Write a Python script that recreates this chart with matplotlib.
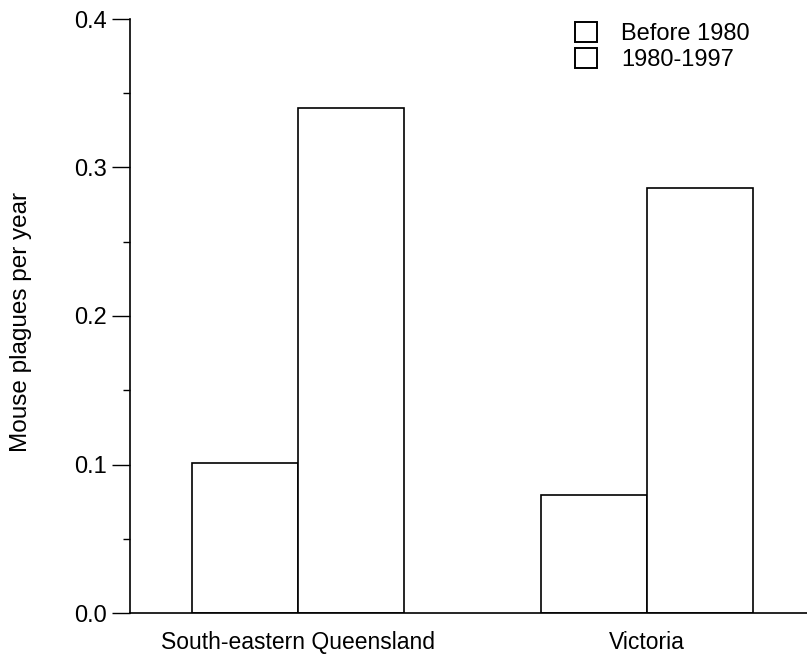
import matplotlib.pyplot as plt
from matplotlib.patches import Patch
from matplotlib.ticker import MultipleLocator

plt.rcParams['font.family'] = ['Liberation Sans', 'DejaVu Sans']

# Data
regions = ['South-eastern Queensland', 'Victoria']
periods = ['Before 1980', '1980-1997']
before_1980 = [0.101, 0.0795]
after_1980 = [0.340, 0.286]

fs = 17

fig = plt.figure(figsize=(8.07, 6.57), dpi=100)
ax = fig.add_axes([130 / 807, 44 / 657, 677 / 807, 594 / 657])

width = 0.304
x = list(range(len(regions)))
bar_style = dict(color='white', edgecolor='black', linewidth=1.2)
ax.bar([i - width / 2 for i in x], before_1980, width, **bar_style)
ax.bar([i + width / 2 for i in x], after_1980, width, **bar_style)

ax.set_xlim(-0.481, 1.458)
ax.set_ylim(0, 0.4)
ax.set_xticks(x)
ax.set_xticklabels(regions, fontsize=16.5)
ax.yaxis.set_major_locator(MultipleLocator(0.1))
ax.yaxis.set_minor_locator(MultipleLocator(0.05))
ax.yaxis.set_major_formatter(lambda v, p: f'{v:.1f}')
ax.tick_params(axis='y', which='major', length=13, width=1, labelsize=fs, pad=4)
ax.tick_params(axis='y', which='minor', length=5, width=1)
ax.tick_params(axis='x', length=0, pad=13)

for side in ['top', 'right']:
    ax.spines[side].set_visible(False)
for side in ['left', 'bottom']:
    ax.spines[side].set_linewidth(1.2)

ax.set_ylabel('Mouse plagues per year', fontsize=17.5)
ax.yaxis.set_label_coords(-0.145, 0.49)

handles = [Patch(facecolor='white', edgecolor='black', linewidth=1.4) for _ in periods]
ax.legend(handles, periods, loc='upper left', bbox_to_anchor=(0.657, 0.995), frameon=False,
          fontsize=fs, handlelength=0.95, handleheight=0.95, handletextpad=1.0,
          labelspacing=0.12, borderpad=0, borderaxespad=0)

plt.savefig('out.png', dpi=100)
